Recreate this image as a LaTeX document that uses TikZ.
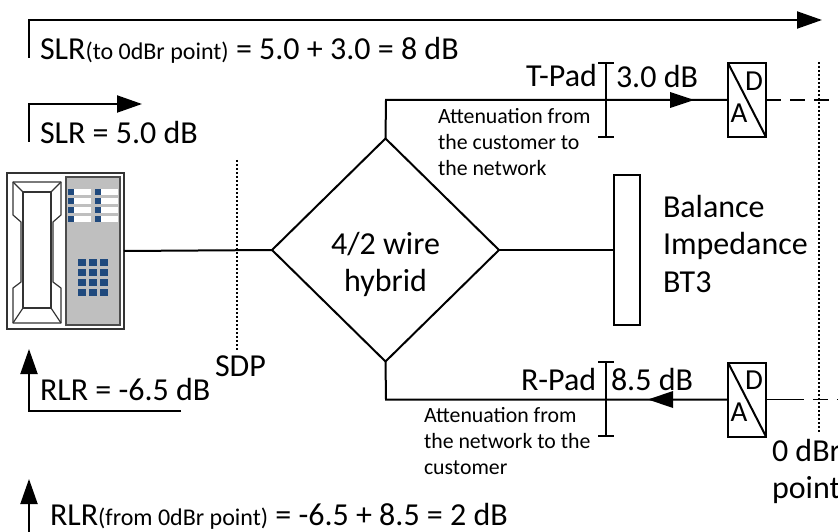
\documentclass[tikz,border=0pt]{standalone}
\usepackage{fontspec}
\usetikzlibrary{shapes.geometric,arrows.meta}
\setmainfont{Carlito}
\definecolor{keyblue}{RGB}{31,73,125}
\definecolor{panelgray}{RGB}{191,191,191}
\tikzset{
  every node/.style={inner sep=0pt,outer sep=0pt},
  wire/.style={line width=2pt,line join=miter},
  dash wire/.style={line width=1.6pt,dash pattern=on 15pt off 9pt},
  dot wire/.style={line width=1.8pt,dash pattern=on 2pt off 2pt},
  flow/.style={wire,-{Triangle[length=25pt,width=17pt]}},
  calib/.style={font=\fontsize{32}{34}\selectfont,anchor=base west},
  calsmall/.style={font=\fontsize{21.8}{26}\selectfont,align=left,anchor=north west},
  mid/.style={font=\fontsize{32}{37.5}\selectfont,anchor=base west},
  adbox/.style={draw,line width=2pt,minimum width=38pt,minimum height=74pt},
  hand/.style={draw=black!80,line width=1.2pt,line join=round},
}
\newcommand{\lab}[1]{{\fontsize{24}{24}\selectfont #1}}
\begin{document}
\begin{tikzpicture}[x=1pt,y=-1pt]
\useasboundingbox (0,0) rectangle (838,532);
% reference lines
\coordinate (sa) at (29,58); \coordinate (sb) at (29,20); \coordinate (sc) at (822,20);
\draw[flow] (sa) -- (sb) -- (sc);
\coordinate (ta) at (29,142); \coordinate (tb) at (29,104); \coordinate (tc) at (142,104);
\draw[flow] (ta) -- (tb) -- (tc);
\coordinate (ra) at (181,411); \coordinate (rb) at (29,411); \coordinate (rc) at (29,349);
\draw[flow] (ra) -- (rb) -- (rc);
\coordinate (qa) at (29,532); \coordinate (qb) at (29,479);
\draw[flow] (qa) -- (qb);
% labels
\node[calib] (slr0) at (40,60) {SLR\lab{(to 0dBr point)} = 5.0 + 3.0 = 8 dB};
\node[calib] (slr) at (40,143) {SLR = 5.0 dB};
\node[calib] (rlr) at (40,400) {RLR = -6.5 dB};
\node[calib] (rlr0) at (50,525) {RLR\lab{(from 0dBr point)} = -6.5 + 8.5 = 2 dB};
\node[mid] (sdp) at (215,376) {SDP};
% phone
\node[draw=black!80,line width=1.2pt,minimum width=117pt,minimum height=156pt] (phone) at (65.5,251) {};
\node[draw=black!70,line width=1.2pt,fill=panelgray,minimum width=54pt,minimum height=148pt] (panel) at (93,251) {};
\draw[hand] (13,182) -- (61,182) -- (61,215) -- (53,222) -- (53,282) -- (61,288) -- (61,323) -- (13,323) -- (13,288) -- (21,282) -- (21,222) -- (13,215) -- cycle;
\draw[hand] (23,192) rectangle (51,308);
\draw[hand] (13,182) -- (23,192) (61,182) -- (51,192) (13,323) -- (23,308) (61,323) -- (51,308);
\foreach \x in {68,95}{
  \foreach \y in {189,198,207,216}{
    \fill[white] (\x,\y) rectangle (\x+23,\y+6);
    \fill[keyblue] (\x,\y) rectangle (\x+6,\y+6);
  }
}
\foreach \x in {78,89,100}{
  \foreach \y in {259,269,279,289}{
    \fill[keyblue] (\x,\y) rectangle (\x+8,\y+7);
  }
}
% hybrid
\node[draw,diamond,line width=2pt,minimum width=227pt,minimum height=223pt,aspect=1] (hyb) at (385.5,250) {};
\node[mid,align=center,anchor=north] (hybt) at (385.5,232) {4/2 wire\\hybrid};
\node[draw,line width=2pt,minimum width=26pt,minimum height=150pt] (bal) at (627,250) {};
\node[mid,align=left,anchor=north west] (balt) at (663,195) {Balance\\Impedance\\BT3};
\draw[wire] (phone.east) -- (hyb.west);
\draw[wire] (hyb.east) -- (bal.west);
% AD boxes
\node[adbox] (ad1) at (747,100) {};
\node[adbox] (ad2) at (747,399.5) {};
\foreach \b in {ad1,ad2}{
  \draw[line width=2pt] (\b.north west) -- (\b.south east);
  \node[font=\fontsize{29}{30}\selectfont] at ([xshift=-8pt,yshift=-13pt]\b.center) {A};
  \node[font=\fontsize{29}{30}\selectfont] at ([xshift=7pt,yshift=19pt]\b.center) {D};
}
% signal paths
\coordinate (t1) at (386,100);
\draw[wire] (hyb.north) -- (t1) -- (ad1.west);
\coordinate (t2) at (694,100);
\fill (670,92) -- (t2) -- (670,108) -- cycle;
\coordinate (r1) at (386,399.5);
\draw[wire] (hyb.south) -- (r1) -- (ad2.west);
\coordinate (r2) at (648,399.5);
\fill (673,391) -- (r2) -- (673,408) -- cycle;
\coordinate (de1) at (838,100); \coordinate (de2) at (838,399.5);
\draw[dash wire] (ad1.east) -- (de1);
\draw[line width=1.6pt,dash pattern=on 38pt off 9pt on 15pt off 9pt on 15pt off 9pt] (ad2.east) -- (de2);
% pads
\coordinate (p1t) at (606,63); \coordinate (p1b) at (606,137);
\coordinate (p2t) at (606,362); \coordinate (p2b) at (606,436);
\draw[line width=1.8pt] (p1t) -- (p1b) ([xshift=-8pt]p1t) -- ([xshift=8pt]p1t) ([xshift=-8pt]p1b) -- ([xshift=8pt]p1b);
\draw[line width=1.8pt] (p2t) -- (p2b) ([xshift=-8pt]p2t) -- ([xshift=8pt]p2t) ([xshift=-8pt]p2b) -- ([xshift=8pt]p2b);
\node[mid] (tpad) at (526,87) {T-Pad};
\node[mid] (tdb) at (616,88) {3.0 dB};
\node[mid] (rpad) at (521,390) {R-Pad};
\node[mid] (rdb) at (611,390) {8.5 dB};
\node[calsmall] (tn) at (438,108) {Attenuation from\\the customer to\\the network};
\node[calsmall] (rn) at (424,407) {Attenuation from\\the network to the\\customer};
% dotted
\coordinate (d1) at (237,160); \coordinate (d2) at (237,350);
\draw[dot wire] (d1) -- (d2);
\coordinate (d3) at (819,62); \coordinate (d4) at (819,433);
\draw[dot wire] (d3) -- (d4);
\node[mid,align=left,anchor=north west] (zero) at (772,439) {0 dBr\\point};
\end{tikzpicture}
\end{document}
